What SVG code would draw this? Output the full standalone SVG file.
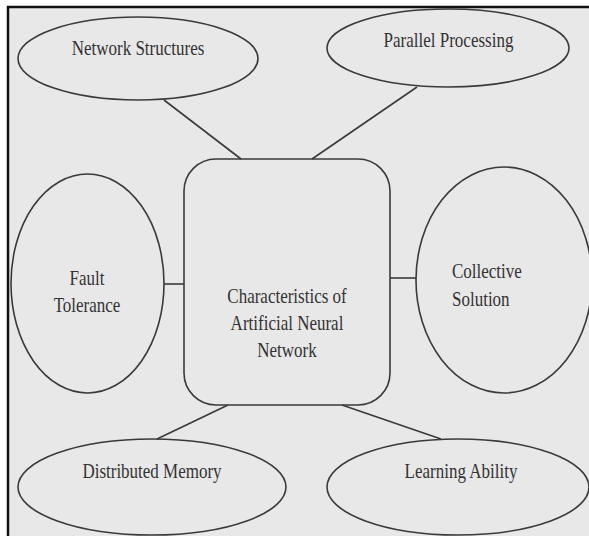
<svg xmlns="http://www.w3.org/2000/svg" width="589" height="536" viewBox="0 0 589 536">
<style>
.node{fill:none;stroke:#3a3a3a;stroke-width:1.6}
.conn line{stroke:#3a3a3a;stroke-width:1.6}
text{font-size:17px;fill:#333}
.c{text-anchor:middle}
</style>
<rect x="0" y="0" width="589" height="536" fill="#ffffff"/>
<rect x="8" y="7" width="600" height="560" fill="#e8e8e8" stroke="#111" stroke-width="2.5"/>
<g id="connectors" class="conn">
<line x1="164" y1="100" x2="241" y2="159"/>
<line x1="417" y1="87" x2="312" y2="159"/>
<line x1="164" y1="284" x2="184" y2="284"/>
<line x1="390" y1="278" x2="416" y2="278"/>
<line x1="228" y1="405" x2="157" y2="439"/>
<line x1="342" y1="405" x2="441" y2="439"/>
</g>
<g id="center" font-family="'Liberation Serif', Times, 'DejaVu Serif', serif">
<rect class="node" x="184" y="159" width="206" height="246" rx="32" ry="32"/>
<text class="c" transform="translate(287,302.7) scale(1,1.27)"><tspan x="0" y="0">Characteristics of</tspan><tspan x="0" dy="21.3">Artificial Neural</tspan><tspan x="0" dy="21.1">Network</tspan></text>
</g>
<g id="network-structures" font-family="'Liberation Serif', Times, 'DejaVu Serif', serif">
<ellipse class="node" cx="138" cy="58.5" rx="120" ry="41.5"/>
<text class="c" transform="translate(138,55) scale(1,1.27)">Network Structures</text>
</g>
<g id="parallel-processing" font-family="'Liberation Serif', Times, 'DejaVu Serif', serif">
<ellipse class="node" cx="448" cy="48" rx="121" ry="39"/>
<text class="c" transform="translate(448.5,46.5) scale(1,1.27)">Parallel Processing</text>
</g>
<g id="fault-tolerance" font-family="'Liberation Serif', Times, 'DejaVu Serif', serif">
<ellipse class="node" cx="87.5" cy="283.5" rx="76.5" ry="109.5"/>
<text class="c" transform="translate(87,285) scale(1,1.27)"><tspan x="0" y="0">Fault</tspan><tspan x="0" dy="21.3">Tolerance</tspan></text>
</g>
<g id="collective-solution" font-family="'Liberation Serif', Times, 'DejaVu Serif', serif">
<ellipse class="node" cx="504" cy="280" rx="88" ry="113"/>
<text transform="translate(452,278) scale(1,1.27)"><tspan x="0" y="0">Collective</tspan><tspan x="0" dy="22">Solution</tspan></text>
</g>
<g id="distributed-memory" font-family="'Liberation Serif', Times, 'DejaVu Serif', serif">
<ellipse class="node" cx="152" cy="487" rx="134" ry="48"/>
<text class="c" transform="translate(152,478) scale(1,1.27)">Distributed Memory</text>
</g>
<g id="learning-ability" font-family="'Liberation Serif', Times, 'DejaVu Serif', serif">
<ellipse class="node" cx="458" cy="487" rx="131" ry="48"/>
<text class="c" transform="translate(461,478) scale(1,1.27)">Learning Ability</text>
</g>
</svg>
